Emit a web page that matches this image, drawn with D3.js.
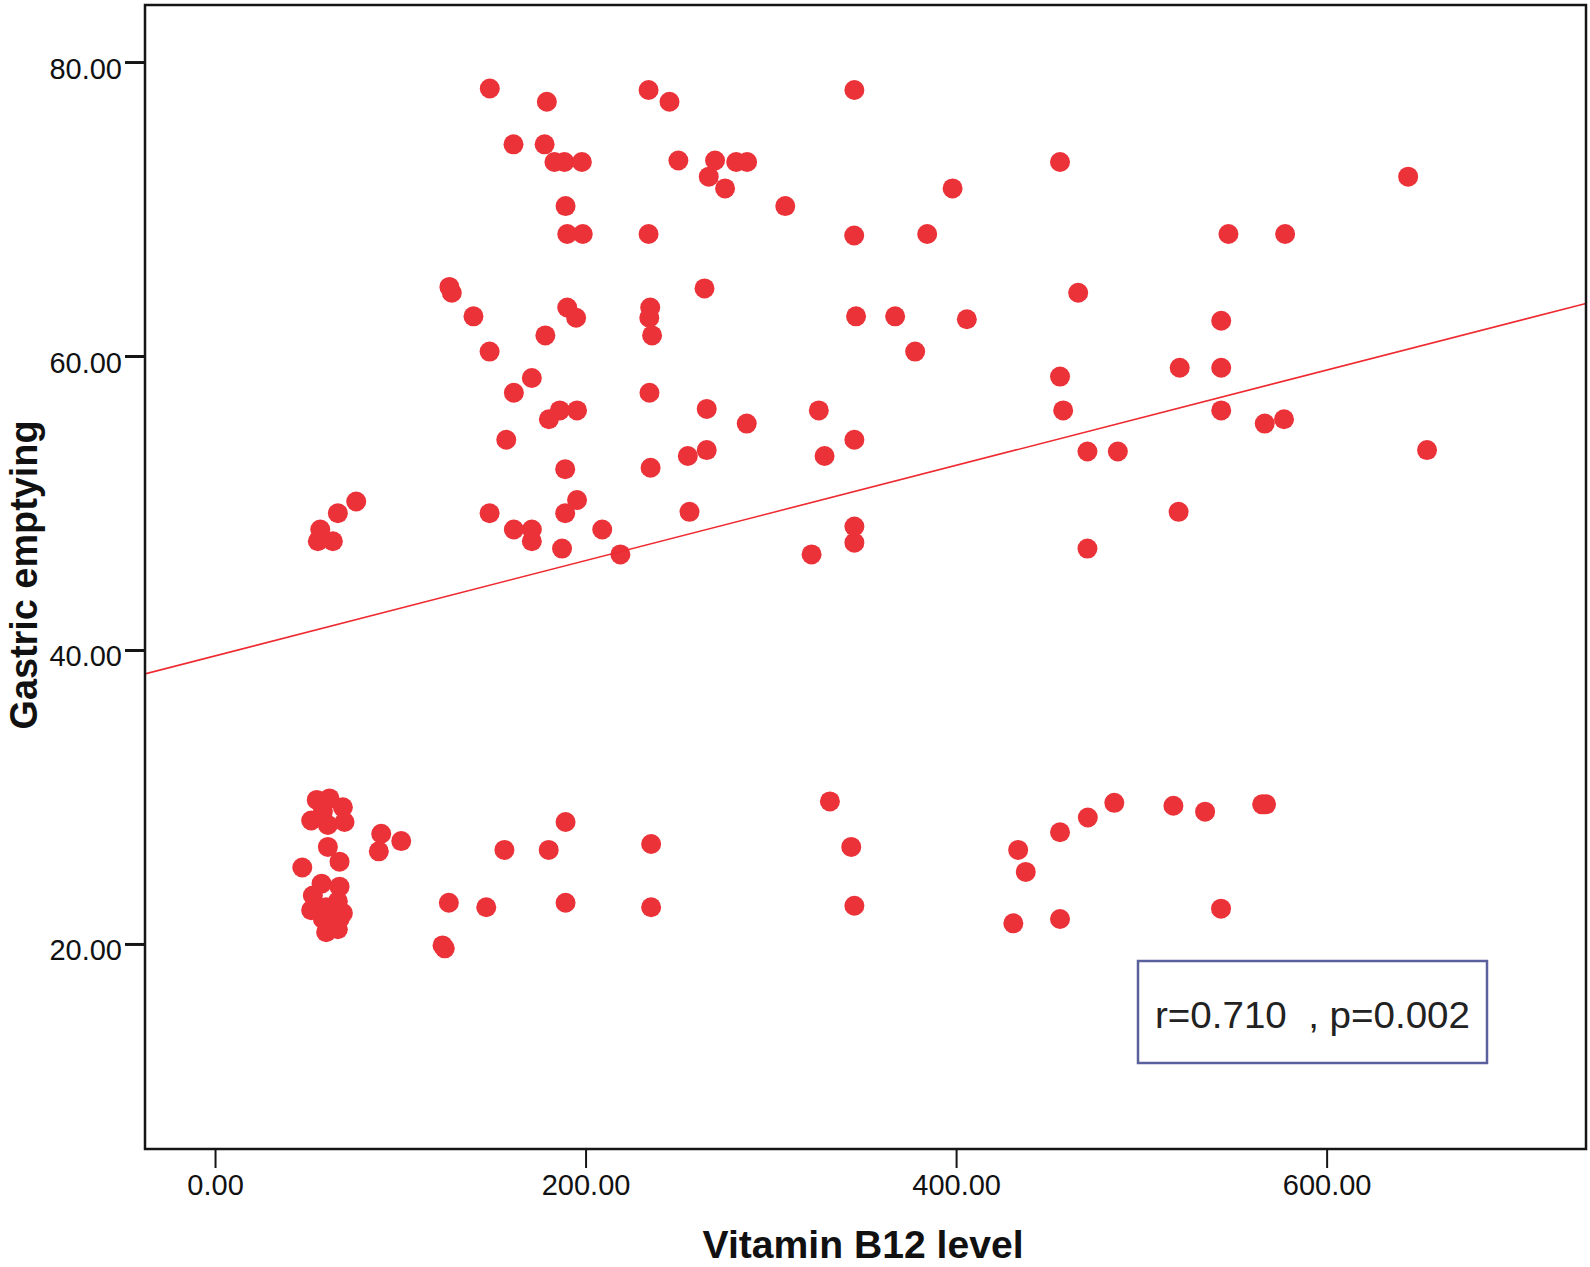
<!DOCTYPE html>
<html>
<head>
<meta charset="utf-8">
<script src="https://cdn.jsdelivr.net/npm/d3@7"></script>
<style>
  body { margin: 0; background: #fff; }
  svg { display: block; font-family: Arial, "Liberation Sans", sans-serif; }
</style>
</head>
<body>
<div id="chart"></div>
<script>
// values, upper band then lower band
const vitaminB12 = [
    148.3, 179.1, 234.0, 245.3, 345.1, 161.1, 177.9, 183.2, 188.6, 198.0,
    250.1, 269.9, 266.5, 281.3, 287.2, 275.3, 456.1, 644.0, 398.1, 307.8,
    189.2, 190.1, 198.5, 234.0, 345.0, 384.4, 547.0, 577.6, 126.5, 127.8,
    264.2, 465.9, 139.5, 190.1, 194.9, 234.9, 234.4, 235.9, 178.3, 346.0,
    367.1, 405.8, 543.1, 148.2, 377.9, 520.7, 543.1, 171.0, 456.1, 161.3,
    234.5, 180.2, 186.1, 195.4, 265.4, 325.9, 457.8, 543.1, 287.0, 566.6,
    577.0, 157.2, 345.1, 654.2, 470.9, 487.3, 265.4, 255.2, 329.0, 189.0,
    235.1, 76.2, 66.3, 195.4, 189.0, 148.2, 256.1, 520.1, 56.8, 55.5,
    63.6, 161.3, 171.0, 171.0, 209.0, 345.1, 345.1, 187.3, 470.9, 218.8,
    322.0,
    54.9, 61.8, 69.0, 51.9, 60.9, 69.9, 58.2, 60.9, 67.2, 47.1,
    89.7, 88.4, 100.5, 57.5, 67.2, 52.8, 66.3, 51.9, 60.0, 69.0,
    58.2, 67.2, 60.0, 66.3, 156.2, 180.1, 189.2, 235.4, 126.2, 146.4,
    189.2, 235.4, 122.8, 124.0, 331.9, 343.4, 345.1, 433.5, 437.6, 430.9,
    456.1, 456.1, 471.1, 485.4, 517.3, 534.4, 565.2, 567.3, 543.0
];
const gastricEmptying = [
    78.2, 77.3, 78.1, 77.3, 78.1, 74.4, 74.4, 73.2, 73.2, 73.2,
    73.3, 73.3, 72.2, 73.2, 73.2, 71.4, 73.2, 72.2, 71.4, 70.2,
    70.2, 68.3, 68.3, 68.3, 68.2, 68.3, 68.3, 68.3, 64.7, 64.3,
    64.6, 64.3, 62.7, 63.3, 62.6, 63.3, 62.6, 61.4, 61.4, 62.7,
    62.7, 62.5, 62.4, 60.3, 60.3, 59.2, 59.2, 58.5, 58.6, 57.5,
    57.5, 55.7, 56.3, 56.3, 56.4, 56.3, 56.3, 56.3, 55.4, 55.4,
    55.7, 54.3, 54.3, 53.6, 53.5, 53.5, 53.6, 53.2, 53.2, 52.3,
    52.4, 50.1, 49.3, 50.2, 49.3, 49.3, 49.4, 49.4, 48.2, 47.4,
    47.4, 48.2, 48.2, 47.4, 48.2, 48.4, 47.3, 46.9, 46.9, 46.5,
    46.5,
    29.8, 29.9, 29.3, 28.4, 28.1, 28.3, 29.0, 26.6, 25.6, 25.2,
    27.5, 26.3, 27.0, 24.1, 23.9, 23.3, 22.9, 22.3, 22.5, 22.1,
    21.7, 21.7, 20.8, 21.0, 26.4, 26.4, 28.3, 26.8, 22.8, 22.5,
    22.8, 22.5, 19.9, 19.7, 29.7, 26.6, 22.6, 26.4, 24.9, 21.4,
    27.6, 21.7, 28.6, 29.6, 29.4, 29.0, 29.5, 29.5, 22.4
];

// fit line: intercept, slope
const fitLine = [39.6, 0.0324];
const statsLabel = "r=0.710  , p=0.002";
const xTicks = [0, 200, 400, 600];
const yTicks = [20, 40, 60, 80];
const xTitle = "Vitamin B12 level";
const yTitle = "Gastric emptying";

const width = 1590;
const height = 1267;
const plot = { left: 145, top: 5, right: 1586, bottom: 1149 };

const x = d3.scaleLinear().domain([-37.8, 740]).range([plot.left, plot.right]);
const y = d3.scaleLinear().domain([6.05, 83.88]).range([plot.bottom, plot.top]);
const fmt = d3.format(".2f");

const svg = d3.select("#chart").append("svg")
    .attr("width", width)
    .attr("height", height);

const points = vitaminB12.map((v, i) => ({ x: v, y: gastricEmptying[i] }));

// clip for the fit line
svg.append("clipPath").attr("id", "plotClip")
    .append("rect")
    .attr("x", plot.left).attr("y", plot.top)
    .attr("width", plot.right - plot.left).attr("height", plot.bottom - plot.top);

svg.append("g")
    .selectAll("circle")
    .data(points)
    .join("circle")
    .attr("cx", d => x(d.x))
    .attr("cy", d => y(d.y))
    .attr("r", 10)
    .attr("fill", "#ec3239");

const xDom = x.domain();
svg.append("line")
    .attr("clip-path", "url(#plotClip)")
    .attr("x1", x(xDom[0])).attr("y1", y(fitLine[0] + fitLine[1] * xDom[0]))
    .attr("x2", x(xDom[1])).attr("y2", y(fitLine[0] + fitLine[1] * xDom[1]))
    .attr("stroke", "#ee2a30")
    .attr("stroke-width", 1.6);

// frame
svg.append("rect")
    .attr("x", plot.left).attr("y", plot.top)
    .attr("width", plot.right - plot.left).attr("height", plot.bottom - plot.top)
    .attr("fill", "none")
    .attr("stroke", "#151515")
    .attr("stroke-width", 2.5);

// y axis
const yAxis = svg.append("g")
    .attr("transform", `translate(${plot.left - 1},0)`)
    .call(d3.axisLeft(y).tickValues(yTicks).tickFormat(fmt).tickSize(19).tickPadding(3));
yAxis.select(".domain").remove();
yAxis.selectAll("line").attr("stroke", "#151515").attr("stroke-width", 3);
yAxis.selectAll("text")
    .attr("font-size", 29)
    .attr("font-family", "Arial, 'Liberation Sans', sans-serif")
    .attr("fill", "#111")
    .attr("dy", 16);

// x axis
const xAxis = svg.append("g")
    .attr("transform", `translate(0,${plot.bottom + 1})`)
    .call(d3.axisBottom(x).tickValues(xTicks).tickFormat(fmt).tickSize(18).tickPadding(6));
xAxis.select(".domain").remove();
xAxis.selectAll("line").attr("stroke", "#151515").attr("stroke-width", 2);
xAxis.selectAll("text")
    .attr("font-size", 29)
    .attr("font-family", "Arial, 'Liberation Sans', sans-serif")
    .attr("fill", "#111");

// axis titles
svg.append("text")
    .attr("x", 863)
    .attr("y", 1258)
    .attr("text-anchor", "middle")
    .attr("font-size", 38)
    .attr("font-weight", "bold")
    .attr("textLength", 321)
    .attr("lengthAdjust", "spacingAndGlyphs")
    .attr("fill", "#111")
    .text(xTitle);

svg.append("text")
    .attr("transform", "translate(37,575) rotate(-90)")
    .attr("text-anchor", "middle")
    .attr("font-size", 38)
    .attr("font-weight", "bold")
    .attr("textLength", 309)
    .attr("lengthAdjust", "spacingAndGlyphs")
    .attr("fill", "#111")
    .text(yTitle);

// stats box
svg.append("rect")
    .attr("x", 1138).attr("y", 961)
    .attr("width", 349).attr("height", 102)
    .attr("fill", "#fff")
    .attr("stroke", "#5a5f9e")
    .attr("stroke-width", 2.5);

svg.append("text")
    .attr("x", 1155)
    .attr("y", 1028)
    .attr("font-size", 37)
    .attr("textLength", 315)
    .attr("lengthAdjust", "spacingAndGlyphs")
    .attr("fill", "#222")
    .style("white-space", "pre")
    .text(statsLabel);
</script>
</body>
</html>
